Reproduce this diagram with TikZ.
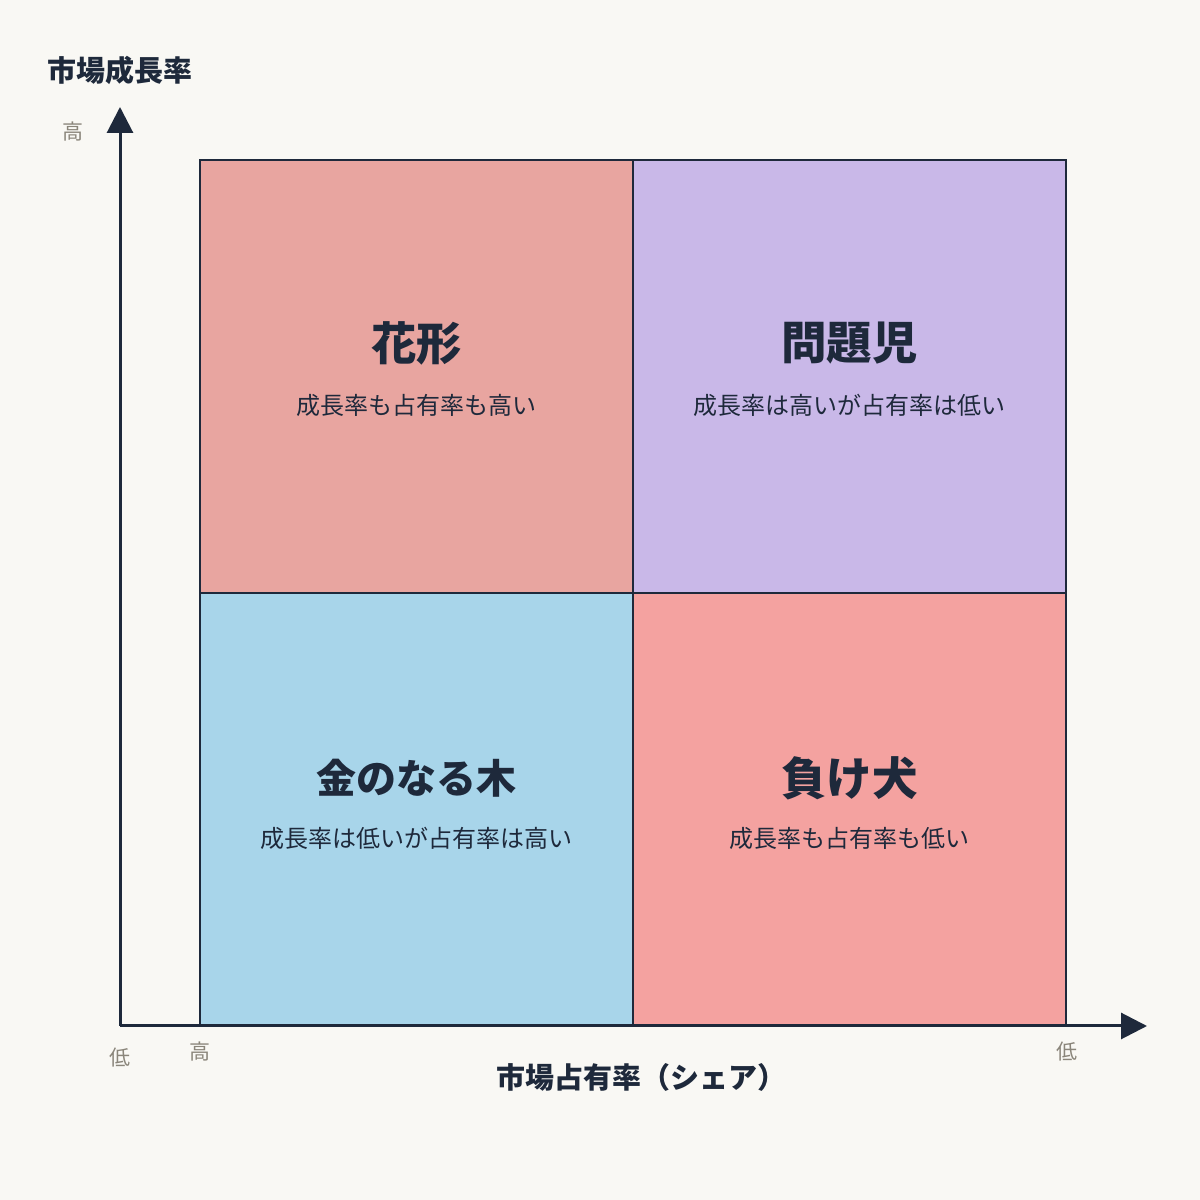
\documentclass[tikz,border=0pt]{standalone}
\usepackage{fontspec}
\setmainfont{Noto Sans CJK JP}
\usetikzlibrary{arrows.meta}
\definecolor{bgc}{HTML}{F9F8F4}
\definecolor{navy}{HTML}{1E293B}
\definecolor{tickc}{HTML}{8A857A}
\definecolor{qtl}{HTML}{E8A5A0}
\definecolor{qtr}{HTML}{C9B8E8}
\definecolor{qbl}{HTML}{A8D5EA}
\definecolor{qbr}{HTML}{F4A2A0}
\tikzset{
  quad/.style={draw=navy, line width=2pt, minimum width=433pt, minimum height=433pt, inner sep=0pt, outer sep=0pt},
  qtitle/.style={text=navy, font=\fontsize{45.5}{54}\selectfont\bfseries, inner sep=0pt},
  qtitlesmall/.style={text=navy, font=\fontsize{40}{48}\selectfont\bfseries, inner sep=0pt},
  qsub/.style={text=navy, font=\fontsize{24}{29}\selectfont, inner sep=0pt},
  axislabel/.style={text=navy, font=\fontsize{29}{34}\selectfont\bfseries, inner sep=0pt},
  ticklabel/.style={text=tickc, font=\fontsize{21}{25}\selectfont, inner sep=0pt},
  axis/.style={draw=navy, line width=3pt, -{Triangle[length=26pt,width=26pt]}}
}
\begin{document}
\begin{tikzpicture}[x=1pt,y=1pt]
\fill[bgc] (0,0) rectangle (1200,1200);
\useasboundingbox (0,0) rectangle (1200,1200);
% quadrants
\node[quad, fill=qtl] (tl) at (416.5,823.5) {};
\node[quad, fill=qtr] (tr) at (849.5,823.5) {};
\node[quad, fill=qbl] (bl) at (416.5,390.5) {};
\node[quad, fill=qbr] (br) at (849.5,390.5) {};
% quadrant texts
\node[qtitle] (tlt) at (416.5,857) {花形};
\node[qsub] (tls) at (416.5,795) {成長率も占有率も高い};
\node[qtitle] (trt) at (849.5,857) {問題児};
\node[qsub] (trs) at (849.5,795) {成長率は高いが占有率は低い};
\node[qtitlesmall] (blt) at (416.5,422) {金のなる木};
\node[qsub] (bls) at (416.5,362) {成長率は低いが占有率は高い};
\node[qtitle] (brt) at (849.5,422) {負け犬};
\node[qsub] (brs) at (849.5,362) {成長率も占有率も低い};
% axes
\coordinate (origin) at (120,174);
\coordinate (ytip) at (120,1093);
\coordinate (xtip) at (1147,174);
\draw[axis] (origin) -- (ytip);
\draw[axis] (origin) -- (xtip);
% labels
\node[axislabel] (ylab) at (119.5,1130) {市場成長率};
\node[axislabel] (xlab) at (641,123) {市場占有率（シェア）};
\node[ticklabel] (yhigh) at (73,1068) {高};
\node[ticklabel] (ylow) at (120,142) {低};
\node[ticklabel] (xhigh) at (200,148) {高};
\node[ticklabel] (xlow) at (1067,148) {低};
\end{tikzpicture}
\end{document}
